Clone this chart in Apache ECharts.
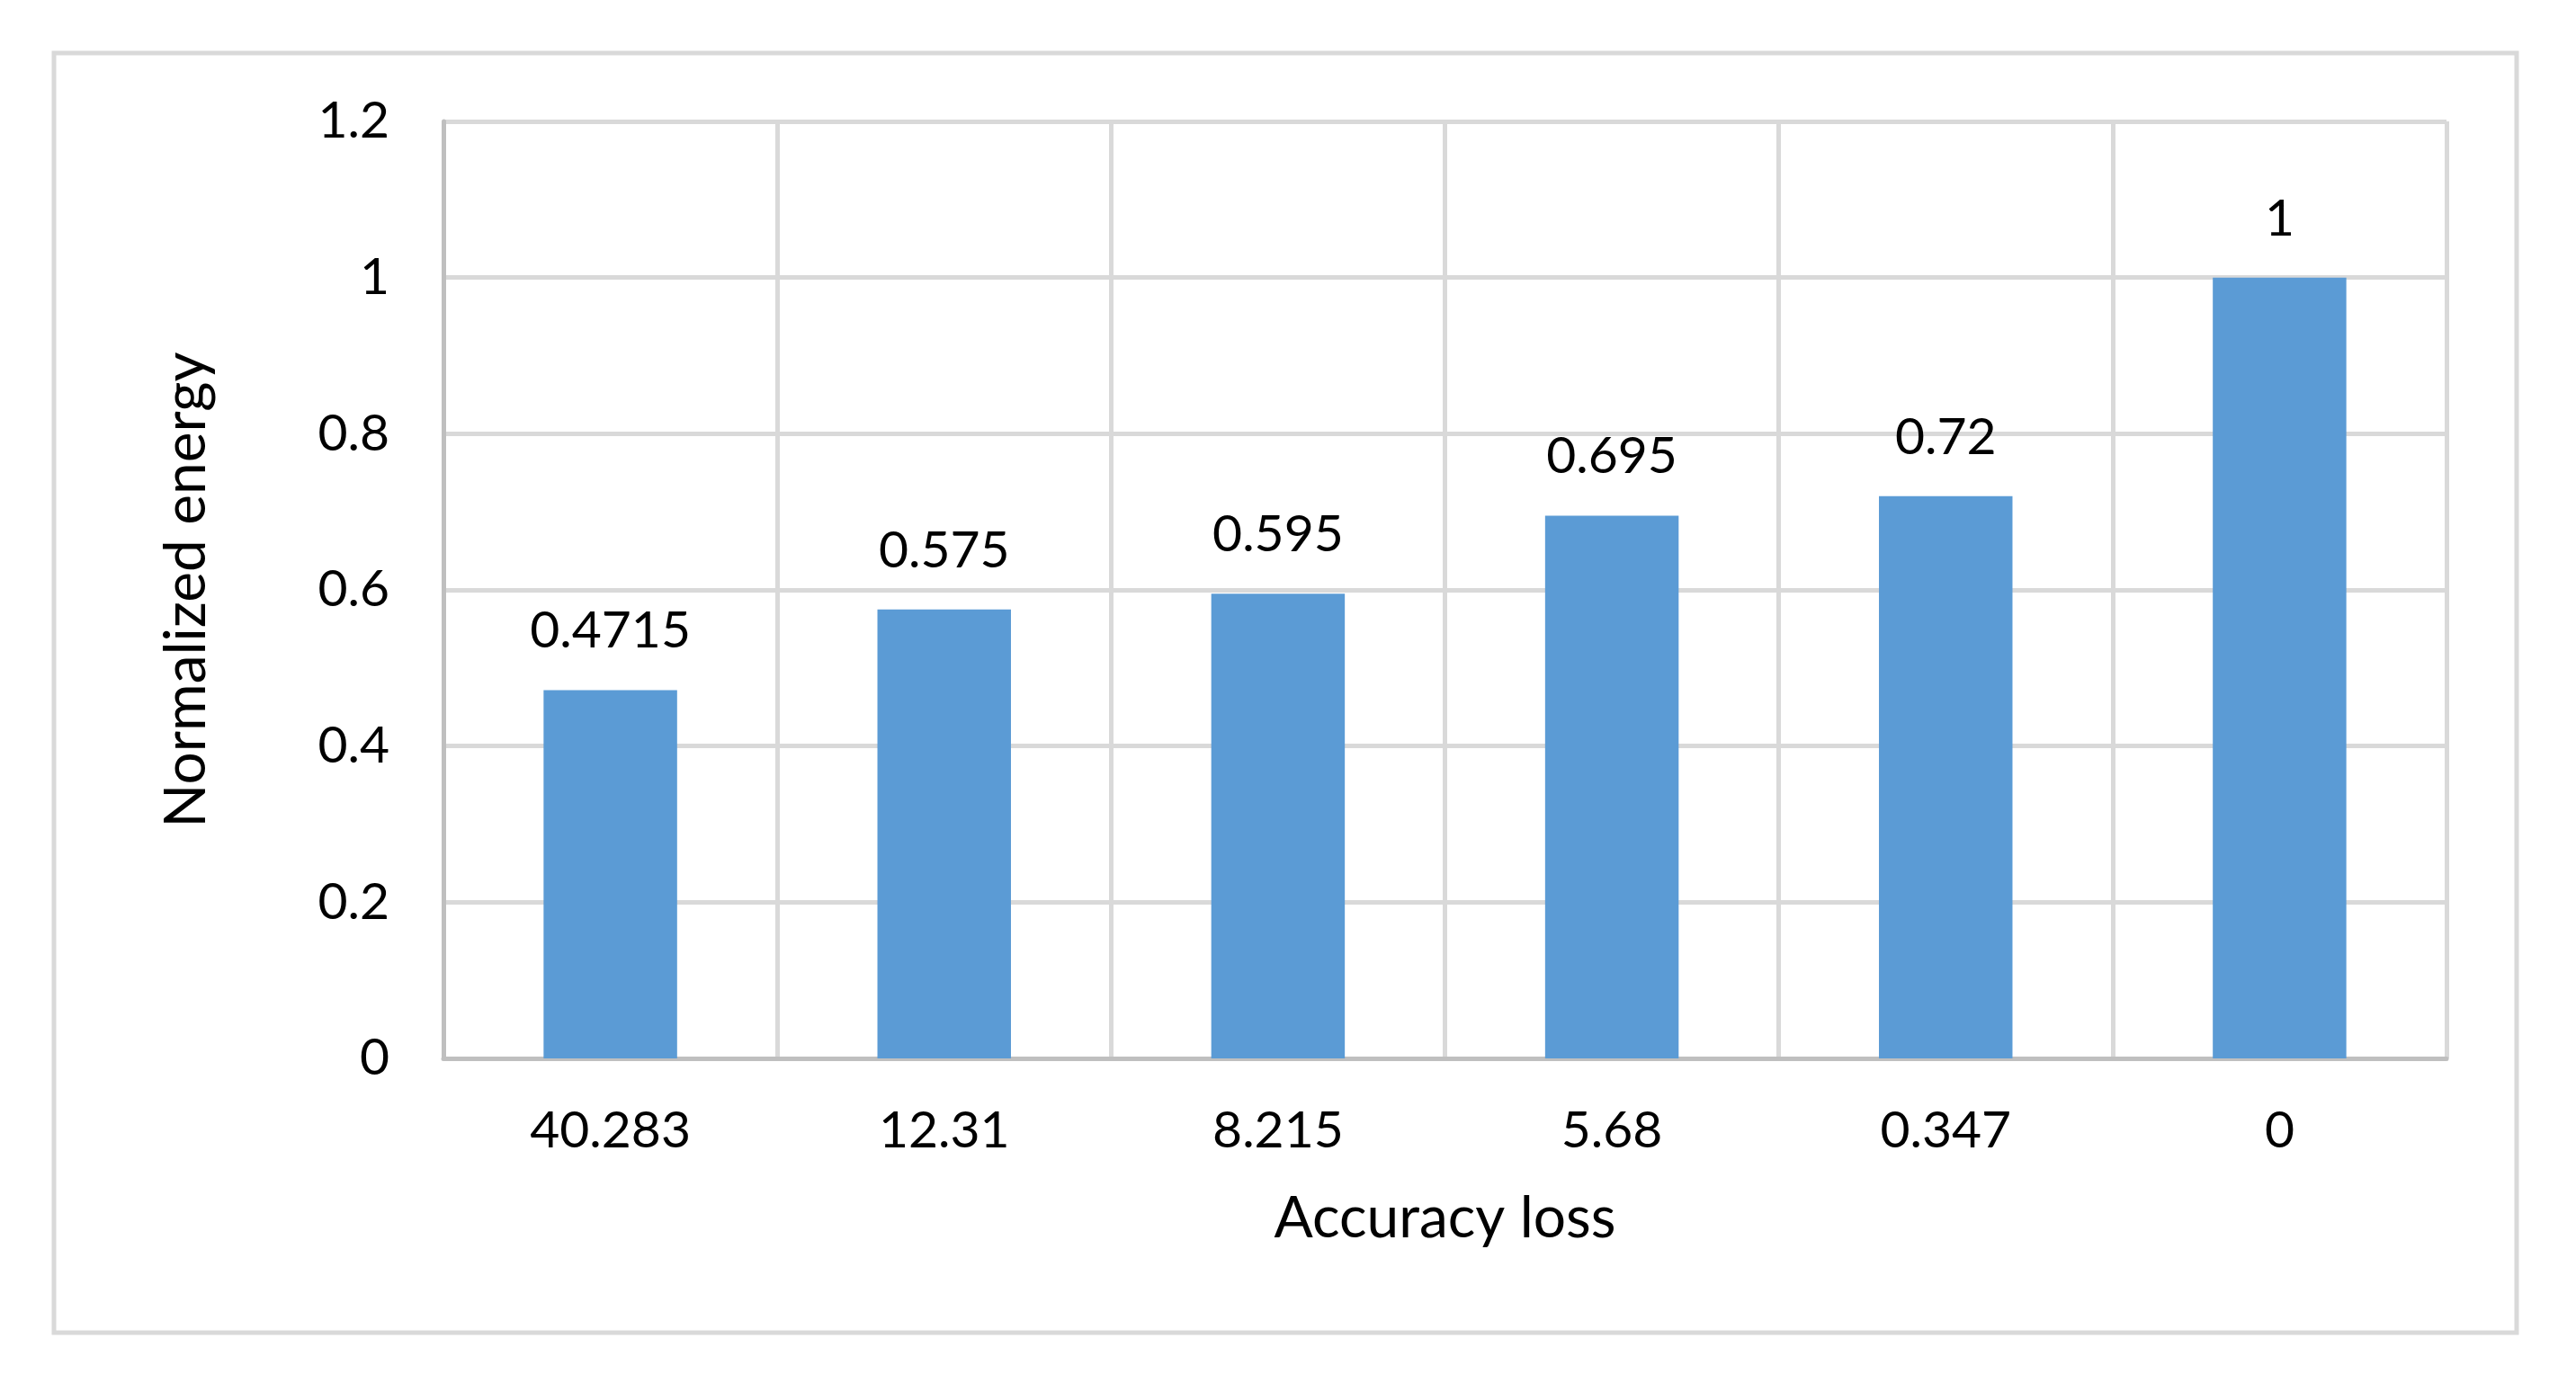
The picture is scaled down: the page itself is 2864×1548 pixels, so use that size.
<!DOCTYPE html>
<html>
<head>
<meta charset="utf-8">
<script src="https://cdn.jsdelivr.net/npm/echarts@6/dist/echarts.min.js"></script>
<style>
  html, body { margin: 0; padding: 0; background: #fff; }
  #chart { width: 2864px; height: 1548px; }
</style>
</head>
<body>
<div id="chart"></div>
<script>
  // accuracy loss categories (x axis)
  const accuracyLoss = ['40.283', '12.31', '8.215', '5.68', '0.347', '0']
  // normalized energy per category
  const energy = [0.4715, 0.575, 0.595, 0.695, 0.72, 1]

  const font = 'Lato, "Open Sans", sans-serif'
  const chart = echarts.init(document.getElementById('chart'))

  chart.setOption({
    animation: false,
    backgroundColor: '#fff',
    graphic: [{
      type: 'rect',
      shape: { x: 60, y: 59, width: 2738, height: 1423 },
      style: { fill: 'none', stroke: '#d9d9d9', lineWidth: 5 },
      silent: true
    }],
    grid: {
      left: 493,
      right: 144,
      top: 135,
      bottom: 371
    },
    xAxis: {
      type: 'category',
      data: accuracyLoss,
      name: 'Accuracy loss',
      nameLocation: 'middle',
      nameGap: 146,
      nameTextStyle: { fontFamily: font, fontSize: 64, color: '#000' },
      axisLine: { lineStyle: { color: '#bfbfbf', width: 5 } },
      axisTick: { show: false },
      axisLabel: { fontFamily: font, fontSize: 57, color: '#000', margin: 52 },
      splitLine: { show: true, interval: 0, lineStyle: { color: '#d9d9d9', width: 5 } }
    },
    yAxis: {
      type: 'value',
      min: 0,
      max: 1.2,
      interval: 0.2,
      name: 'Normalized energy',
      nameLocation: 'middle',
      nameRotate: 90,
      nameGap: 254,
      nameTextStyle: { fontFamily: font, fontSize: 64, color: '#000' },
      axisLine: { show: true, lineStyle: { color: '#bfbfbf', width: 5 } },
      axisTick: { show: false },
      axisLabel: { fontFamily: font, fontSize: 57, color: '#000', margin: 60 },
      splitLine: { lineStyle: { color: '#d9d9d9', width: 5 } }
    },
    series: [{
      type: 'bar',
      data: energy,
      barCategoryGap: '60%',
      itemStyle: { color: '#5b9bd5' },
      label: {
        show: true,
        position: 'top',
        distance: 37,
        fontFamily: font,
        fontSize: 57,
        color: '#000'
      }
    }]
  })
</script>
</body>
</html>
